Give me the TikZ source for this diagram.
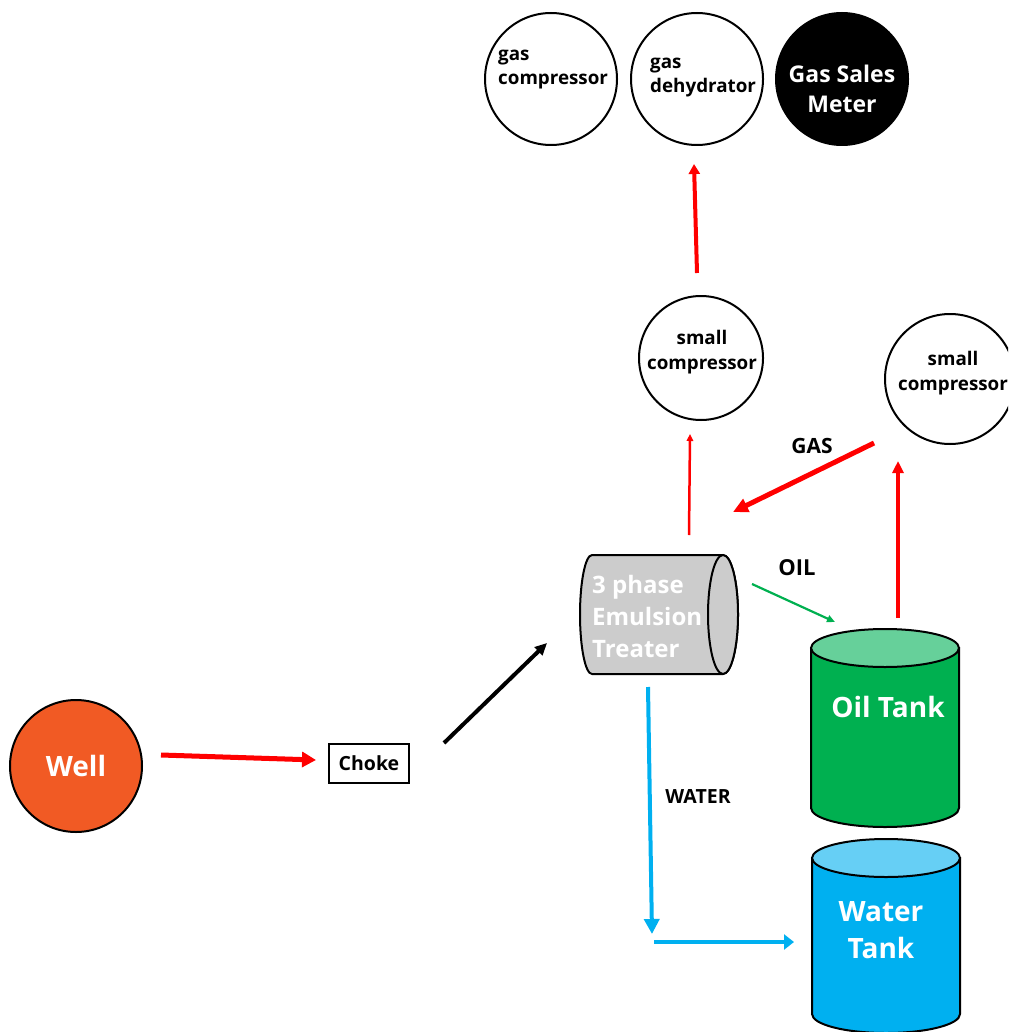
\documentclass[tikz,border=0pt]{standalone}
\usepackage{fontspec}
\setmainfont{Open Sans}
\usetikzlibrary{arrows.meta}
\definecolor{flowred}{HTML}{FF0000}
\definecolor{flowgreen}{HTML}{00B050}
\definecolor{flowblue}{HTML}{00B0F0}
\definecolor{oilbody}{HTML}{00B050}
\definecolor{oiltop}{HTML}{66D09A}
\definecolor{waterbody}{HTML}{00B0F0}
\definecolor{watertop}{HTML}{66CFF5}
\definecolor{treatergray}{HTML}{CCCCCC}
\definecolor{wellorange}{HTML}{F15A24}
\tikzset{
  circ/.style={circle, draw=black, line width=2pt, minimum size=#1, inner sep=0pt},
  txt/.style={inner sep=0pt, font=\bfseries\fontsize{#1}{#1}\selectfont},
  tankline/.style={draw=black, line width=2pt},
}
\begin{document}
\begin{tikzpicture}[x=1pt,y=-1pt]
\useasboundingbox (0,0) rectangle (1008,1032);
\clip (0,0) rectangle (1008,1032);

% top row
\node[circ=132pt] (gc) at (551,79) {};
\node[circ=132pt] (gd) at (697,79) {};
\node[circ=132pt, fill=black] (gsm) at (842,79) {};
\node[inner sep=0pt, align=left, anchor=west, font=\bfseries\fontsize{18.8}{24}\selectfont] (gct) at (498,70) {gas\\compressor};
\node[inner sep=0pt, align=left, anchor=west, font=\bfseries\fontsize{18.8}{24}\selectfont] (gdt) at (650,78) {gas\\dehydrator};
\node[inner sep=0pt, align=center, text=white, font=\bfseries\fontsize{23}{30}\selectfont] (gsmt) at (842,89) {Gas Sales\\Meter};

% small compressors
\node[circ=124pt] (sc1) at (701,358) {};
\node[inner sep=0pt, align=center, font=\bfseries\fontsize{18.8}{25}\selectfont] (sc1t) at (702,352) {small\\compressor};
\node[circ=130pt] (sc2) at (950,379) {};
\node[inner sep=0pt, align=center, font=\bfseries\fontsize{18.8}{25}\selectfont] (sc2t) at (953,373) {small\\compressor};

% treater (horizontal cylinder)
\draw[tankline, fill=treatergray] (723,555) -- (592,555)
  arc[start angle=270, end angle=90, x radius=12, y radius=59.5]
  -- (723,674) arc[start angle=90, end angle=-90, x radius=15, y radius=59.5] -- cycle;
\draw[tankline, fill=treatergray] (723,614.5) ellipse [x radius=15, y radius=59.5];
\node[inner sep=0pt, align=left, anchor=west, text=white, font=\bfseries\fontsize{24}{32}\selectfont] (trt) at (592,616) {3 phase\\Emulsion\\Treater};

% oil tank
\draw[tankline, fill=oilbody] (811,648) -- (811,808)
  arc[start angle=180, end angle=0, x radius=74, y radius=19] -- (959,648) -- cycle;
\draw[tankline, fill=oiltop] (885,648) ellipse [x radius=74, y radius=19];
\node[txt=28, text=white] (oilt) at (888,707) {Oil Tank};

% water tank
\draw[tankline, fill=waterbody] (812,858) -- (812,1014)
  arc[start angle=180, end angle=0, x radius=74, y radius=19] -- (960,858) -- cycle;
\draw[tankline, fill=watertop] (886,858) ellipse [x radius=74, y radius=19];
\node[inner sep=0pt, align=center, text=white, font=\bfseries\fontsize{28}{37}\selectfont] (wtt) at (881,930) {Water\\Tank};

% well and choke
\node[circ=132pt, fill=wellorange, text=white, font=\bfseries\fontsize{28}{28}\selectfont] (well) at (76,766) {Well};
\node[draw=black, line width=1.8pt, minimum width=80pt, minimum height=39pt, inner sep=0pt, font=\bfseries\fontsize{19.5}{19.5}\selectfont] (choke) at (369,763.5) {Choke};

% labels
\node[txt=21] (gaslbl) at (812,446) {GAS};
\node[txt=22] (oillbl) at (797,568) {OIL};
\node[txt=19.5] (waterlbl) at (698,797) {WATER};

% connector end points
\coordinate (a1) at (161,755); \coordinate (a2) at (316,760);
\coordinate (b1) at (444,743); \coordinate (b2) at (547,643);
\coordinate (c1) at (689,535); \coordinate (c2) at (690,434);
\coordinate (d1) at (697,273); \coordinate (d2) at (694,164);
\coordinate (e1) at (874,443); \coordinate (e2) at (733,512);
\coordinate (f1) at (898,618); \coordinate (f2) at (898,461);
\coordinate (g1) at (752,584); \coordinate (g2) at (835,622);
\coordinate (h1) at (648,687); \coordinate (h2) at (652,934);
\coordinate (i1) at (654,942); \coordinate (i2) at (794,942);

% connectors
\draw[flowred, line width=5pt, -{Triangle[length=14pt, width=15pt]}] (a1) -- (a2);
\draw[black, line width=4pt, -{Triangle[length=12pt, width=11pt]}] (b1) -- (b2);
\draw[flowred, line width=2.5pt, -{Triangle[length=7pt, width=6.5pt]}] (c1) -- (c2);
\draw[flowred, line width=4pt, -{Triangle[length=10pt, width=11pt]}] (d1) -- (d2);
\draw[flowred, line width=5pt, -{Triangle[length=15pt, width=14pt]}] (e1) -- (e2);
\draw[flowred, line width=4.5pt, -{Triangle[length=12pt, width=11pt]}] (f1) -- (f2);
\draw[flowgreen, line width=2.2pt, -{Triangle[length=8pt, width=7pt]}] (g1) -- (g2);
\draw[flowblue, line width=4pt, -{Triangle[length=15pt, width=15pt]}] (h1) -- (h2);
\draw[flowblue, line width=4pt, -{Triangle[length=10pt, width=15pt]}] (i1) -- (i2);
\end{tikzpicture}
\end{document}
